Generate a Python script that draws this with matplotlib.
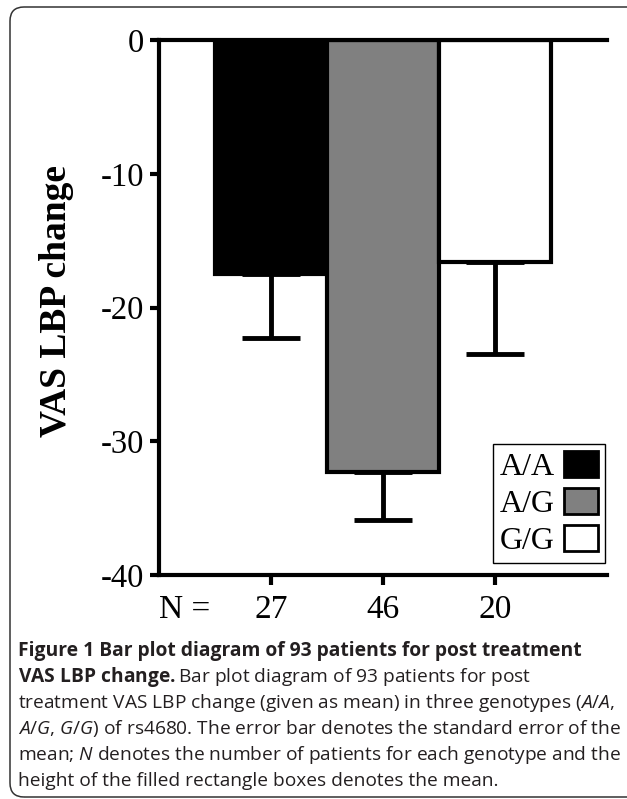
import matplotlib
matplotlib.use("Agg")
import matplotlib.pyplot as plt
from matplotlib.patches import Patch, FancyBboxPatch
from matplotlib.transforms import IdentityTransform

genotypes = ["A/A", "A/G", "G/G"]
n_patients = [27, 46, 20]
mean_change = [-17.5, -32.3, -16.6]
sem = [4.8, 3.6, 6.9]
bar_colors = ["black", "#808080", "white"]

caption_lines = [
    "Figure 1 Bar plot diagram of 93 patients for post treatment",
    r"$\mathbf{VAS\ LBP\ change.}$Bar plot diagram of 93 patients for post",
    r"treatment VAS LBP change (given as mean) in three genotypes ($\mathit{A/A}$,",
    r"$\mathit{A/G}$, $\mathit{G/G}$) of rs4680. The error bar denotes the standard error of the",
    r"mean; $\mathit{N}$ denotes the number of patients for each genotype and the",
    "height of the filled rectangle boxes denotes the mean.",
]

plt.rcParams["font.family"] = ["Liberation Serif", "DejaVu Serif"]
plt.rcParams["axes.unicode_minus"] = False
plt.rcParams["mathtext.fontset"] = "custom"
plt.rcParams["mathtext.rm"] = "Open Sans"
plt.rcParams["mathtext.it"] = "Open Sans:italic"
plt.rcParams["mathtext.bf"] = "Open Sans:bold"

W, H = 627, 799
fig = plt.figure(figsize=(W / 100, H / 100), dpi=100)

# outer rounded frame (runs off the right edge like the original)
frame = FancyBboxPatch((10, 2), 640, 790, boxstyle="round,pad=0,rounding_size=14",
                       transform=IdentityTransform(), facecolor="none",
                       edgecolor="#333333", linewidth=1.1)
fig.add_artist(frame)

ax = fig.add_axes([159 / W, 1 - 575 / H, 448 / W, 535 / H])
x = list(range(len(genotypes)))
ax.bar(x, mean_change, width=1.0, color=bar_colors, edgecolor="black", linewidth=3, zorder=2)
ax.errorbar(x, mean_change, yerr=[sem, [0] * len(sem)], fmt="none", ecolor="black",
            elinewidth=3.5, capsize=21, capthick=3.5, zorder=3)

ax.set_xlim(-1, 3)
ax.set_ylim(-40, 0)
ax.spines["right"].set_visible(False)
for s in ["left", "bottom", "top"]:
    ax.spines[s].set_linewidth(3)
ax.spines["top"].set_zorder(4)

ax.set_yticks([0, -10, -20, -30, -40])
ax.tick_params(axis="y", length=6.5, width=3, labelsize=23.5, pad=4)
ax.set_xticks([-0.77] + x)
ax.set_xticklabels(["N ="] + [str(n) for n in n_patients])
ax.tick_params(axis="x", length=7, width=3, labelsize=24, pad=7)
ax.xaxis.get_major_ticks()[0].tick1line.set_visible(False)

ax.set_ylabel("VAS LBP change", fontsize=27, fontweight="bold")
ax.yaxis.set_label_coords(-0.19, 0.512)

handles = [Patch(facecolor=c, edgecolor="black", linewidth=2) for c in bar_colors]
leg = ax.legend(handles, genotypes, loc="lower right", bbox_to_anchor=(0.9955, 0.022),
                markerfirst=False, fancybox=False, edgecolor="black", framealpha=1,
                fontsize=23, handlelength=1.05, handleheight=0.85, handletextpad=0.3,
                labelspacing=0.2, borderpad=0.22, borderaxespad=0)
leg.get_frame().set_linewidth(1)

# caption
base = 656
for i, line in enumerate(caption_lines):
    fig.text(18 / W, 1 - (base + 26 * i) / H, line, family="Open Sans",
             fontsize=13.85 if i == 0 else 13.75,
             fontweight="bold" if i == 0 else "normal", va="baseline", ha="left",
             color="#231f20")

fig.savefig("out.png", dpi=100)
